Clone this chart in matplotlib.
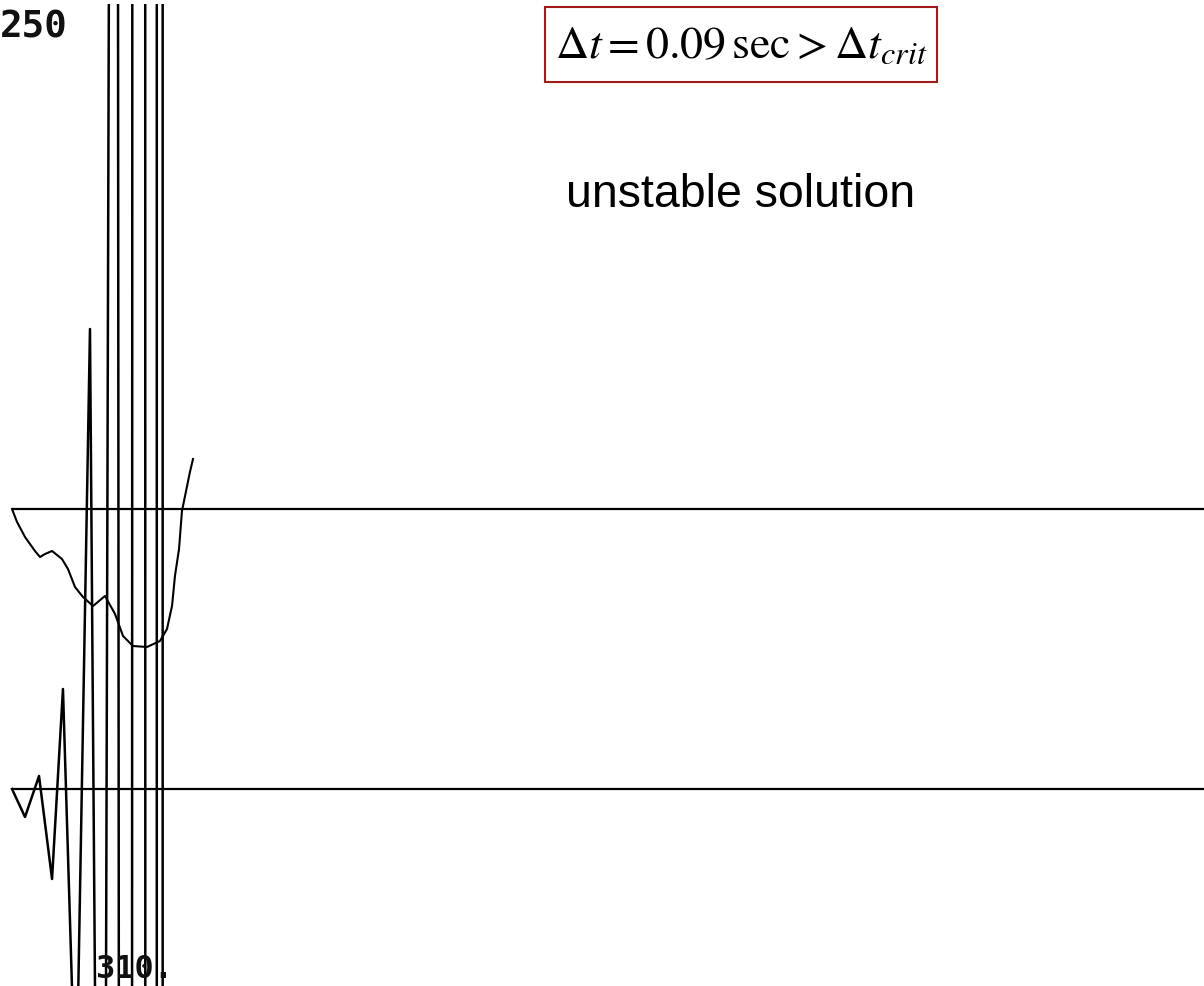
import matplotlib
matplotlib.use("Agg")
import matplotlib.pyplot as plt
from matplotlib.patches import Rectangle
import numpy as np

# ---------------- data ----------------
# time in seconds, responses in screen units (positive = up)
dt = 0.09
# upper trace: displacement response
t_disp = [0.000, 0.036, 0.093, 0.164, 0.200, 0.236, 0.286, 0.357, 0.400, 0.450,
          0.507, 0.579, 0.664, 0.736, 0.793, 0.864, 0.964, 1.057, 1.107, 1.143,
          1.164, 1.193, 1.214, 1.236, 1.271, 1.293]
u_disp = [0, -13, -28, -42, -48, -45, -42, -50, -60, -78,
          -88, -97, -87, -105, -127, -137, -138, -132, -120, -97,
          -67, -40, -2, 13, 37, 50]
# lower trace: unstable acceleration response (grows without bound)
t_acc = [0.000, 0.093, 0.193, 0.286, 0.364, 0.457, 0.557, 0.650, 0.743,
         0.836, 0.929, 1.029, 1.071, 1.129]
a_acc = [0, -28, 13, -90, 100, -330, 460, -1250, 3300,
         -13000, 42000, -140000, 1000000, -10000000]

label_top = "250"
label_bottom = "310."
title_math = r"$\Delta t = 0.09\,\mathrm{sec} > \Delta t_{crit}$"
subtitle = "unstable solution"

# ---------------- figure ----------------
W, H = 1204, 987
fig = plt.figure(figsize=(W / 100, H / 100), dpi=100)
fig.patch.set_facecolor("white")

px_per_s = 140.0
x0_px = 12.0
xlim = (-x0_px / px_per_s, (W - x0_px) / px_per_s)

top_px, bot_px = 5, 987
rect = [0, 0, 1, (bot_px - top_px) / H]

def make_axes(base_px):
    ax = fig.add_axes(rect, facecolor="none")
    ax.set_xlim(*xlim)
    ax.set_ylim(base_px - bot_px, base_px - top_px)
    ax.axis("off")
    return ax

ax_u = make_axes(510)
ax_a = make_axes(790)

for ax in (ax_u, ax_a):
    ax.plot([0, xlim[1]], [0, 0], color="black", lw=1.6, solid_capstyle="butt")

ax_u.plot(t_disp, u_disp, color="black", lw=1.5)
ax_a.plot(t_acc, a_acc, color="black", lw=1.8)

# texts
fig.text(0 / W, 1 - 38 / H, label_top, family="DejaVu Sans Mono",
         fontweight="bold", fontsize=27, color="#111111",
         ha="left", va="baseline")
fig.text(96 / W, 1 - 985 / H, label_bottom, family="DejaVu Sans Mono",
         fontweight="bold", fontsize=23, color="#111111",
         ha="left", va="bottom")

plt.rcParams["mathtext.fontset"] = "stix"
fig.text(741 / W, 1 - 46 / H, title_math, fontsize=33, ha="center",
         va="center", color="black")
fig.patches.append(Rectangle((545 / W, 1 - 83 / H), 392 / W, 75 / H,
                             transform=fig.transFigure, fill=False,
                             edgecolor="#a01c1c", lw=1.5))

fig.text(740.5 / W, 1 - 207 / H, subtitle, family="Liberation Sans",
         fontsize=33.5, ha="center", va="baseline", color="black")

fig.savefig("out.png", dpi=100, facecolor="white")
